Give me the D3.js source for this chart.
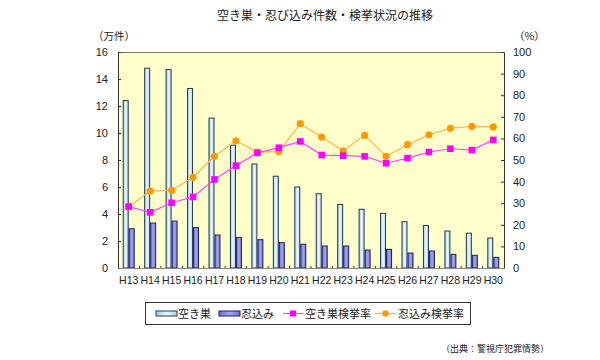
<!DOCTYPE html>
<html><head><meta charset="utf-8">
<script src="https://cdn.jsdelivr.net/npm/d3@7"></script>
<style>body{margin:0;background:#fff}svg{display:block}text{font-family:"Liberation Sans","Noto Sans CJK JP",sans-serif;fill:#222}</style>
</head><body><svg id="c" width="600" height="360"></svg>
<script>
const categories = ["H13","H14","H15","H16","H17","H18","H19","H20","H21","H22","H23","H24","H25","H26","H27","H28","H29","H30"];
const akisu = [12.4,14.8,14.7,13.3,11.1,9.1,7.7,6.8,6.0,5.5,4.7,4.35,4.05,3.43,3.15,2.74,2.58,2.22];
const shinobikomi = [2.91,3.33,3.48,2.99,2.44,2.27,2.1,1.88,1.76,1.63,1.63,1.33,1.38,1.11,1.26,1.01,0.94,0.79];
const akisuRate = [28.4,25.8,30.2,32.9,41.0,47.4,53.3,55.7,58.6,52.3,52.0,51.7,48.5,50.9,53.7,55.2,54.6,59.3];
const shinobiRate = [28.4,35.6,36.0,42.0,51.7,58.9,53.6,53.9,66.8,60.6,54.2,61.4,51.7,57.1,61.7,64.7,65.6,65.3];
const leftTicks = [0,2,4,6,8,10,12,14,16];
const rightTicks = [0,10,20,30,40,50,60,70,80,90,100];

const svg = d3.select("#c");
const L = 118, R = 504, T = 52, B = 268;
const x = d3.scaleBand().domain(categories).range([L, R]);
const yL = d3.scaleLinear().domain([0,16]).range([B, T]);
const yR = d3.scaleLinear().domain([0,100]).range([B, T]);

const defs = svg.append("defs");
const g1 = defs.append("linearGradient").attr("id","gLight").attr("x1","0").attr("x2","1");
g1.append("stop").attr("offset","0").attr("stop-color","#9cc9ec");
g1.append("stop").attr("offset","0.5").attr("stop-color","#eef8ff");
g1.append("stop").attr("offset","1").attr("stop-color","#a9d3f0");
const g2 = defs.append("linearGradient").attr("id","gDark").attr("x1","0").attr("x2","1");
g2.append("stop").attr("offset","0").attr("stop-color","#6d6de0");
g2.append("stop").attr("offset","0.5").attr("stop-color","#a4a4fa");
g2.append("stop").attr("offset","1").attr("stop-color","#7373e4");

// plot background
svg.append("rect").attr("x",L).attr("y",T).attr("width",R-L).attr("height",B-T).attr("fill","#ffffcc");
svg.append("line").attr("x1",L).attr("x2",R).attr("y1",T+0.5).attr("y2",T+0.5).attr("stroke","#777");

// title
svg.append("text").attr("x",325).attr("y",20).attr("text-anchor","middle").attr("font-size",12)
  .style("font-family","'Noto Sans CJK JP',sans-serif").text("空き巣・忍び込み件数・検挙状況の推移");
svg.append("text").attr("x",93).attr("y",40).attr("font-size",10.5).style("font-family","'Noto Sans CJK JP',sans-serif").text("（万件）");
svg.append("text").attr("x",514).attr("y",40).attr("font-size",10.5).style("font-family","'Noto Sans CJK JP',sans-serif").text("（%）");

// bars
const bw = 6;
svg.append("g").selectAll("rect").data(categories).join("rect")
  .attr("x",(d)=>x(d)+x.bandwidth()/2-bw+0.5)
  .attr("y",(d,i)=>yL(akisu[i]))
  .attr("width",bw-1).attr("height",(d,i)=>B-yL(akisu[i]))
  .attr("fill","url(#gLight)").attr("stroke","#2a3a44").attr("stroke-width",1);
svg.append("g").selectAll("rect").data(categories).join("rect")
  .attr("x",(d)=>x(d)+x.bandwidth()/2+0.5)
  .attr("y",(d,i)=>yL(shinobikomi[i]))
  .attr("width",bw-1).attr("height",(d,i)=>B-yL(shinobikomi[i]))
  .attr("fill","url(#gDark)").attr("stroke","#22224a").attr("stroke-width",1);

// axes
const axL = d3.axisLeft(yL).tickValues(leftTicks).tickSize(-3).tickPadding(10);
const gL = svg.append("g").attr("transform",`translate(${L},0)`).call(axL);
const axR = d3.axisRight(yR).tickValues(rightTicks).tickSize(-3).tickPadding(9);
const gR = svg.append("g").attr("transform",`translate(${R},0)`).call(axR);
const axB = d3.axisBottom(x).tickSize(0).tickPadding(9);
const gB = svg.append("g").attr("transform",`translate(0,${B})`).call(axB);
[gL,gR,gB].forEach(g=>{
  g.select(".domain").attr("stroke","#333");
  g.selectAll(".tick line").attr("stroke","#333");
  g.selectAll("text").attr("font-size",11).attr("fill","#222").style("font-family","'Liberation Sans',sans-serif");
});
gB.select(".domain").attr("stroke","#888");
gB.selectAll("text").attr("font-size",10.5);
// small category separator ticks
svg.append("g").selectAll("line").data(categories.slice(1)).join("line")
  .attr("x1",d=>x(d)).attr("x2",d=>x(d)).attr("y1",B-2).attr("y2",B).attr("stroke","#333");

// lines
const lineAk = d3.line().x((d,i)=>x(categories[i])+x.bandwidth()/2).y(d=>yR(d));
svg.append("path").datum(shinobiRate).attr("d",lineAk).attr("fill","none").attr("stroke","#ffb347").attr("stroke-width",1.2);
svg.append("path").datum(akisuRate).attr("d",lineAk).attr("fill","none").attr("stroke","#ff44ff").attr("stroke-width",1.2);
svg.append("g").selectAll("circle").data(shinobiRate).join("circle")
  .attr("cx",(d,i)=>x(categories[i])+x.bandwidth()/2).attr("cy",d=>yR(d)).attr("r",3.6).attr("fill","#ff9900");
svg.append("g").selectAll("rect").data(akisuRate).join("rect")
  .attr("x",(d,i)=>x(categories[i])+x.bandwidth()/2-3.3).attr("y",d=>yR(d)-3.3).attr("width",6.6).attr("height",6.6).attr("fill","#ff00ff");

// legend
const lg = svg.append("g");
lg.append("rect").attr("x",145.5).attr("y",302.5).attr("width",325).attr("height",22).attr("fill","#fff").attr("stroke","#333");
const ly = 313.5;
const legendLabels = ["空き巣","忍込み","空き巣検挙率","忍込み検挙率"];
lg.append("rect").attr("x",156).attr("y",ly-2.5).attr("width",21).attr("height",5).attr("fill","url(#gLight)").attr("stroke","#2a3a44");
lg.append("rect").attr("x",219).attr("y",ly-2.5).attr("width",21).attr("height",5).attr("fill","url(#gDark)").attr("stroke","#22224a");
lg.append("line").attr("x1",283).attr("x2",303).attr("y1",ly).attr("y2",ly).attr("stroke","#ff44ff").attr("stroke-width",1.2);
lg.append("rect").attr("x",290).attr("y",ly-3).attr("width",6).attr("height",6).attr("fill","#ff00ff");
lg.append("line").attr("x1",375).attr("x2",396).attr("y1",ly).attr("y2",ly).attr("stroke","#ffb347").attr("stroke-width",1.2);
lg.append("circle").attr("cx",385.5).attr("cy",ly).attr("r",3.2).attr("fill","#ff9900");
const lx = [178,241,305,398];
legendLabels.forEach((t,i)=>lg.append("text").attr("x",lx[i]).attr("y",ly+4).attr("font-size",11)
  .style("font-family","'Noto Sans CJK JP',sans-serif").text(t));

svg.append("text").attr("x",549).attr("y",352).attr("text-anchor","end").attr("font-size",9)
  .style("font-family","'Noto Sans CJK JP',sans-serif").text("（出典：警視庁犯罪情勢）");
</script></body></html>
